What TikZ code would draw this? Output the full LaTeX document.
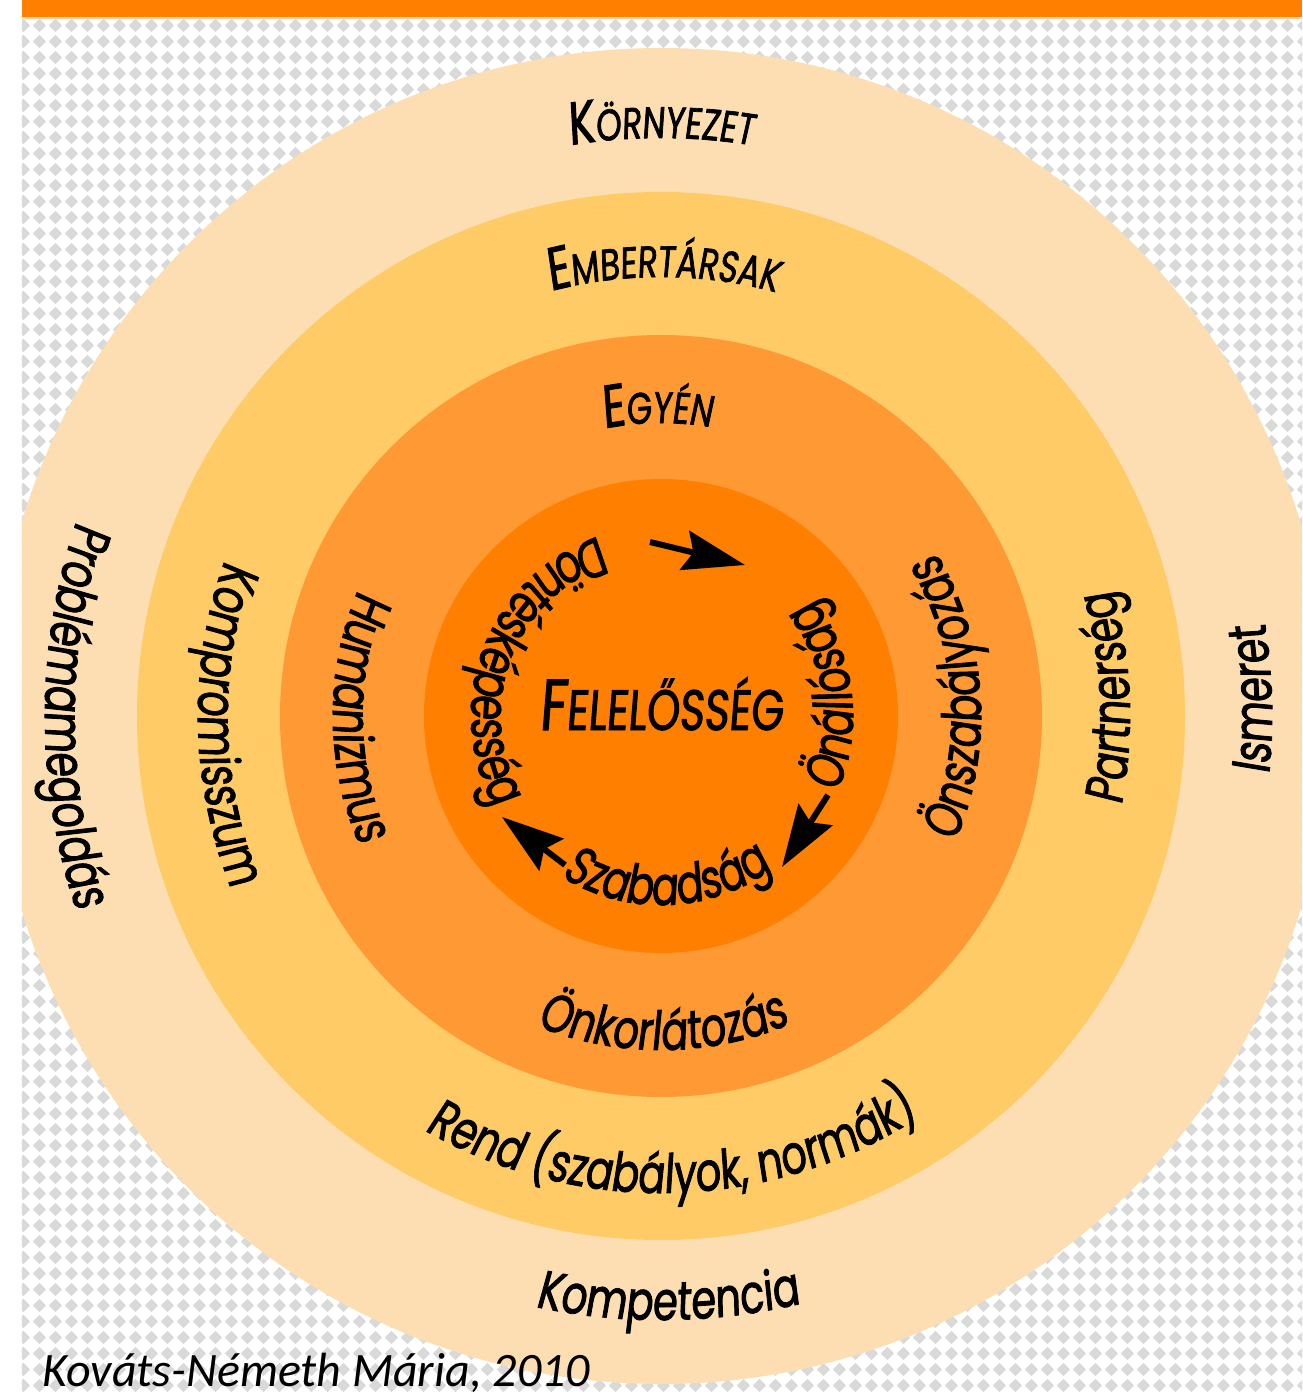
\documentclass[tikz,border=0pt]{standalone}
\usepackage{fontspec}
\usetikzlibrary{decorations.text,arrows.meta,patterns}
\newfontfamily\lblfont{Poppins}[FakeStretch=0.74,FakeSlant=0.08,FakeBold=1.6]
\newfontfamily\capfont{Carlito}
\definecolor{barorange}{HTML}{FF8000}
\definecolor{barline}{HTML}{FFD3A6}
\definecolor{chkgray}{HTML}{D9D9D9}
\definecolor{ringA}{HTML}{FDDEB3}
\definecolor{ringB}{HTML}{FFCB66}
\definecolor{ringC}{HTML}{FF9933}
\definecolor{ringD}{HTML}{FF8000}
\newcommand\rtxt{\lblfont\fontsize{54}{60}\selectfont}
\newcommand\capbig{\lblfont\fontsize{60}{66}\selectfont}
\newcommand\capsmall{\lblfont\fontsize{44}{50}\selectfont}
\pgfdeclarepatternformonly{chk}{\pgfpoint{0pt}{0pt}}{\pgfpoint{16pt}{16pt}}{\pgfpoint{16pt}{16pt}}{%
  \pgfpathmoveto{\pgfpoint{8pt}{1pt}}\pgfpathlineto{\pgfpoint{15pt}{8pt}}%
  \pgfpathlineto{\pgfpoint{8pt}{15pt}}\pgfpathlineto{\pgfpoint{1pt}{8pt}}%
  \pgfpathclose\pgfusepath{fill}}
% text on arc, counter-clockwise (tops toward centre): radius, centre angle, half span, text
\newcommand\ccwtext[4]{\path[decorate,decoration={text along path,text align=center,text={#4}}]
  ({#2-#3}:#1) arc[start angle={#2-#3}, end angle={#2+#3}, radius=#1];}
% text on arc, clockwise (tops away from centre)
\newcommand\cwtext[4]{\path[decorate,decoration={text along path,text align=center,text={#4}}]
  ({#2+#3}:#1) arc[start angle={#2+#3}, end angle={#2-#3}, radius=#1];}
\tikzset{
  cyclearrow/.style={line width=6pt,-{Stealth[length=62pt,width=40pt,inset=9pt]}},
}
\begin{document}
\begin{tikzpicture}[x=1pt,y=1pt]
\useasboundingbox (-661,-676) rectangle (641,716);
\fill[white] (-661,-676) rectangle (641,716);
\fill[barorange] (-639,699) rectangle (641,716);
\fill[barline] (-639,697) rectangle (641,699);
\fill[white] (-639,-676) rectangle (641,697);
\fill[pattern=chk, pattern color=chkgray] (-639,-676) rectangle (641,697);
\begin{scope}
  \clip (-639,-676) rectangle (641,697);
  \fill[ringA] (0,0) circle[radius=668];
\end{scope}
\fill[ringB] (0,0) circle[radius=524];
\fill[ringC] (0,0) circle[radius=381];
\fill[ringD] (0,0) circle[radius=237];

% outer ring
\cwtext{578}{90}{30}{|\capbig|K|\capsmall|ÖRNYEZET}
\ccwtext{616}{180}{40}{|\rtxt|Problémamegoldás}
\ccwtext{611}{1.6}{30}{|\rtxt|Ismeret}
\ccwtext{604}{270.7}{40}{|\rtxt|Kompetencia}
% ring 2
\cwtext{439}{89.7}{40}{|\capbig|E|\capsmall|MBERTÁRSAK}
\ccwtext{463}{181.1}{40}{|\rtxt|Kompromisszum}
\ccwtext{469}{2.3}{40}{|\rtxt|Partnerség}
\ccwtext{477}{271.5}{50}{|\rtxt|Rend (szabályok, normák)}
% ring 3
\cwtext{293}{90.7}{40}{|\capbig|E|\capsmall|GYÉN}
\ccwtext{328}{180.3}{50}{|\rtxt|Humanizmus}
\ccwtext{320}{3.75}{50}{|\rtxt|Önszabályozás}
\ccwtext{334}{270.4}{50}{|\rtxt|Önkorlátozás}
% inner
\ccwtext{190}{159}{70}{|\rtxt|Döntésképesség}
\ccwtext{192}{7}{45}{|\rtxt|Önállóság}
\ccwtext{189}{272}{50}{|\rtxt|Szabadság}
\node[anchor=base, inner sep=0] (fel) at (0,-14)
  {\lblfont\fontsize{72}{80}\selectfont F\fontsize{57}{64}\selectfont ELELŐSSÉG};

\coordinate (a1s) at (-11,174); \coordinate (a1e) at (84,151);
\coordinate (a2s) at (167,-79); \coordinate (a2e) at (121,-151);
\coordinate (a3s) at (-96,-149); \coordinate (a3e) at (-159,-101);
\draw[cyclearrow] (a1s) -- (a1e);
\draw[cyclearrow] (a2s) -- (a2e);
\draw[cyclearrow] (a3s) -- (a3e);

\node[anchor=base west, inner sep=0, font=\capfont\itshape\fontsize{48}{52}\selectfont] (cap) at (-619,-670) {Kováts-Németh Mária, 2010};
\end{tikzpicture}
\end{document}
